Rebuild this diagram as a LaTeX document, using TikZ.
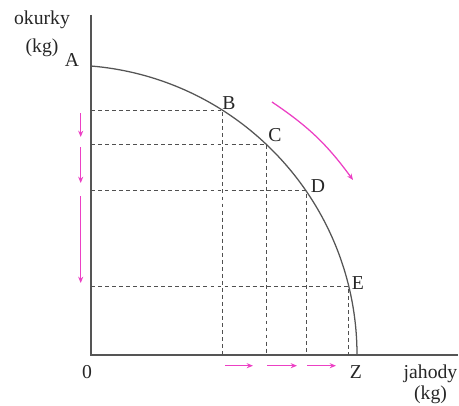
\documentclass[tikz,border=0pt]{standalone}
\usepackage{fontspec}
\setmainfont{Liberation Serif}
\usetikzlibrary{arrows.meta, positioning, calc}
\definecolor{AX}{RGB}{85,85,85}
\definecolor{DL}{RGB}{80,80,80}
\definecolor{MG}{RGB}{236,64,196}

\begin{document}
\begin{tikzpicture}[
  x=2.5mm, y=2.5mm,
  axis/.style={draw=AX, line width=1.1pt},
  curve/.style={draw=AX, line width=0.9pt},
  guide/.style={draw=DL, line width=0.65pt, dash pattern=on 2.8pt off 2.2pt},
  move/.style={-{Stealth[length=4.5pt, width=3.6pt]}, draw=MG, line width=0.9pt},
  lbl/.style={inner sep=0pt, font=\fontsize{14}{20}\selectfont, text=black!85},
  axlbl/.style={lbl, align=center}
]
\useasboundingbox (-9.1,-5.0) rectangle (36.8,35.5);

% Axes
\coordinate (O)    at (0,0);
\coordinate (ytop) at (0,34.0);
\coordinate (xend) at (36.7,0);
\draw[axis] (ytop) -- (O) -- (xend);

% Frontier (arc of a circle)
\coordinate (ctr) at (-2.4,0);
\coordinate (A) at ($(ctr)+(85.25:29)$);
\coordinate (B) at ($(ctr)+(57.5:29)$);
\coordinate (C) at ($(ctr)+(46.5:29)$);
\coordinate (D) at ($(ctr)+(34.5:29)$);
\coordinate (E) at ($(ctr)+(13.6:29)$);
\coordinate (Z) at ($(ctr)+(0:29)$);
\draw[curve] (A) arc[start angle=85.25, end angle=0, radius=29];

% Guide lines
\foreach \p in {B,C,D,E}{
  \draw[guide] (\p -| O) -- (\p) -- (\p |- O);
}

% Labels
\node[lbl] (labA) at (-1.9,29.5) {A};
\node[lbl] (labB) at (13.8,25.2) {B};
\node[lbl] (labC) at (18.4,22.0) {C};
\node[lbl] (labD) at (22.7,16.9) {D};
\node[lbl] (labE) at (26.7,7.2)  {E};
\node[lbl] (lab0) at (-0.4,-1.7) {0};
\node[lbl] (labZ) at (26.5,-1.7) {Z};
\node[axlbl] (ylab) at (-4.9,32.1) {okurky\\(kg)};
\node[axlbl, font=\fontsize{14}{15}\selectfont] (xlab) at (33.95,-2.95) {jahody\\(kg)};

% Shifts along the axes
\foreach \i/\a/\b in {1/24.2/21.8, 2/20.8/17.2, 3/15.9/7.2}{
  \coordinate (ys\i) at (-1.03,\a);
  \coordinate (ye\i) at (-1.03,\b);
  \draw[move] (ys\i) -- (ye\i);
}
\foreach \i/\a/\b in {1/13.4/16.2, 2/17.6/20.6, 3/21.6/24.5}{
  \coordinate (xs\i) at (\a,-1.07);
  \coordinate (xe\i) at (\b,-1.07);
  \draw[move] (xs\i) -- (xe\i);
}
\coordinate (ms) at (18.1,25.3);
\coordinate (me) at (26.2,17.5);
\draw[move] (ms) to[bend left=10] (me);
\end{tikzpicture}
\end{document}
